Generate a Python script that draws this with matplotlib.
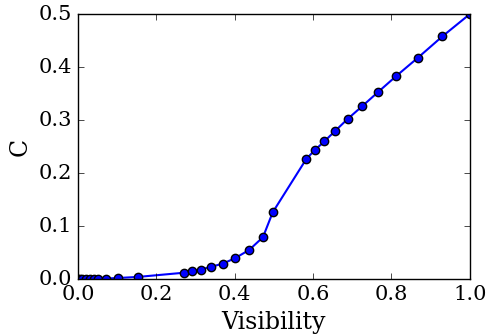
import numpy as np
import matplotlib
matplotlib.use('Agg')
import matplotlib.pyplot as plt

# values
visibility = [0.0, 0.005, 0.01, 0.02, 0.03, 0.04, 0.05, 0.072, 0.102, 0.153,
              0.271, 0.292, 0.314, 0.339, 0.369, 0.400, 0.437, 0.472, 0.497,
              0.583, 0.604, 0.629, 0.657, 0.688, 0.725, 0.766, 0.812, 0.868,
              0.930, 1.0]
C = [0.0, 0.0, 0.0, 0.0, 0.0, 0.0005, 0.0008, 0.001, 0.002, 0.004,
     0.012, 0.015, 0.018, 0.023, 0.029, 0.039, 0.055, 0.079, 0.126,
     0.227, 0.243, 0.260, 0.280, 0.302, 0.326, 0.353, 0.383, 0.418,
     0.458, 0.5]

plt.style.use('classic')
plt.rcParams['font.family'] = 'serif'
plt.rcParams['font.serif'] = ['DejaVu Serif']

fig = plt.figure(figsize=(4.92, 3.35), dpi=100)
ax = fig.add_axes([0.1585, 0.167, 0.7965, 0.791])
ax.plot(visibility, C, 'b-', marker='o', markersize=6, linewidth=1.5,
        markerfacecolor='b', markeredgecolor='k', markeredgewidth=1.0)
ax.set_xlim(0, 1)
ax.set_ylim(0, 0.5)
ax.set_xticks(np.arange(0, 1.01, 0.2))
ax.set_yticks(np.arange(0, 0.51, 0.1))
ax.tick_params(labelsize=15)
ax.set_xlabel('Visibility', fontsize=17)
ax.set_ylabel('C', fontsize=17)

fig.savefig('out.png', dpi=100, facecolor='white')
